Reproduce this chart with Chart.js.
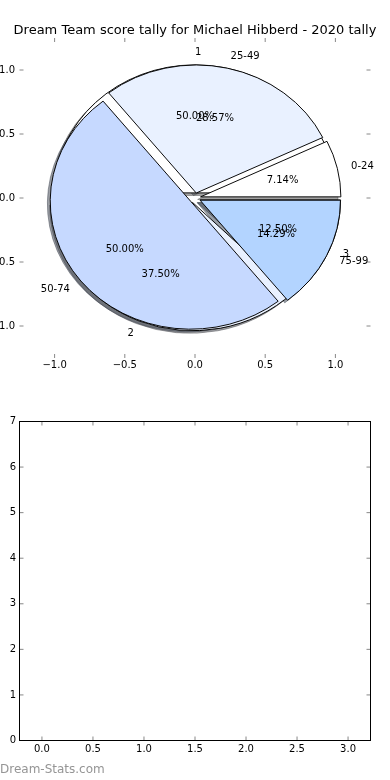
<!DOCTYPE html>
<html>
<head>
<meta charset="utf-8">
<script src="https://cdn.jsdelivr.net/npm/chart.js@4.4.1/dist/chart.umd.min.js"></script>
<style>
html,body{margin:0;padding:0;background:#fff;}
#wrap{position:relative;width:390px;height:780px;overflow:hidden;background:#fff;}
canvas{position:absolute;left:0;}
#c1{top:0;}
#c2{top:390px;}
#title{position:absolute;left:0;top:22px;width:390px;text-align:center;font-family:"DejaVu Sans";font-size:13px;line-height:16px;color:#000;white-space:nowrap;}
#wm{position:absolute;left:0;top:762px;font-family:"DejaVu Sans";font-size:12px;line-height:14px;color:#959595;white-space:nowrap;}
</style>
</head>
<body>
<div id="wrap">
<canvas id="c1" width="390" height="390"></canvas>
<canvas id="c2" width="390" height="390"></canvas>
<div id="title"></div>
<div id="wm">Dream-Stats.com</div>
</div>
<script>
// ---- data ----
const titleText = 'Dream Team score tally for Michael Hibberd - 2020 tally';
const outerLabels = ['0-24', '25-49', '50-74', '75-99'];
const outerValues = [1, 4, 7, 2];
const innerLabels = ['1', '2', '3'];
const innerValues = [4, 3, 1];
const sliceColors = ['#ffffff', '#e9f1ff', '#c6d9ff', '#b3d4ff'];
const pieTicks = [-1.0, -0.5, 0.0, 0.5, 1.0];
const lowerXTicks = [0, 0.5, 1, 1.5, 2, 2.5, 3];
const lowerYTicks = [0, 1, 2, 3, 4, 5, 6, 7];

document.getElementById('title').textContent = titleText;

Chart.defaults.font.family = '"DejaVu Sans"';
Chart.defaults.color = '#000';

function shadowOf(hex) {
  const r = parseInt(hex.slice(1, 3), 16), g = parseInt(hex.slice(3, 5), 16), b = parseInt(hex.slice(5, 7), 16);
  return 'rgba(' + Math.round(r * 0.3) + ',' + Math.round(g * 0.3) + ',' + Math.round(b * 0.3) + ',0.5)';
}
const rev = a => a.slice().reverse();
const fmtTick = v => (v < 0 ? '\u2212' : '') + Math.abs(v).toFixed(1);

function pieDataset(values, labels, explode, shift, isShadow, order) {
  const cols = values.map((_, i) => sliceColors[i % sliceColors.length]);
  const fill = isShadow ? cols.map(shadowOf) : cols;
  return {
    data: rev(values),
    sliceLabels: isShadow ? null : rev(labels),
    backgroundColor: rev(fill),
    borderColor: isShadow ? rev(fill) : '#000',
    borderWidth: 1,
    borderJoinStyle: 'miter',
    explode: explode,
    shift: shift,
    order: order,
    clip: false,
    offset: 0,
    hoverOffset: 0
  };
}

const OUTER_EXPLODE = 0.04, INNER_EXPLODE = 0.04, SHADOW = -0.02;
const TEXT_DY = 0.5;

function geom(chart) {
  const xs = chart.scales.x, ys = chart.scales.y;
  const cx = xs.getPixelForValue(0), cy = ys.getPixelForValue(0);
  return {cx, cy, rx: xs.getPixelForValue(1) - cx, ry: cy - ys.getPixelForValue(1)};
}

const pieGeometry = {
  id: 'pieGeometry',
  afterDatasetsUpdate(chart) {
    const g = geom(chart);
    chart.data.datasets.forEach((ds, i) => {
      chart.getDatasetMeta(i).data.forEach(arc => {
        const mid = (arc.startAngle + arc.endAngle) / 2;
        arc.x = g.cx + (ds.explode * Math.cos(mid) + ds.shift) * g.rx;
        arc.y = g.cy + (ds.explode * Math.sin(mid) - ds.shift) * g.rx;
        arc.innerRadius = 0;
        arc.outerRadius = g.rx;
      });
    });
  },
  beforeDatasetsDraw(chart) {
    const g = geom(chart), ctx = chart.ctx;
    ctx.save();
    ctx.translate(0, g.cy);
    ctx.scale(1, g.ry / g.rx);
    ctx.translate(0, -g.cy);
  },
  afterDatasetsDraw(chart) {
    chart.ctx.restore();
  },
  afterDraw(chart) {
    const g = geom(chart), ctx = chart.ctx, a = chart.chartArea;
    // tick marks (inward, all four sides)
    ctx.save();
    ctx.strokeStyle = '#888';
    ctx.lineWidth = 1;
    ctx.beginPath();
    pieTicks.forEach(v => {
      const x = chart.scales.x.getPixelForValue(v);
      ctx.moveTo(x, a.top); ctx.lineTo(x, a.top + 4);
      ctx.moveTo(x, a.bottom); ctx.lineTo(x, a.bottom - 4);
      const y = chart.scales.y.getPixelForValue(v);
      ctx.moveTo(a.left, y); ctx.lineTo(a.left + 4, y);
      ctx.moveTo(a.right, y); ctx.lineTo(a.right - 4, y);
    });
    ctx.stroke();
    ctx.restore();
    // slice labels and percentages
    ctx.save();
    ctx.font = '10px "DejaVu Sans"';
    ctx.fillStyle = '#000';
    ctx.textBaseline = 'middle';
    const drawOrder = chart.data.datasets.map((ds, i) => i).filter(i => chart.data.datasets[i].sliceLabels)
      .sort((p, q) => chart.data.datasets[q].order - chart.data.datasets[p].order);
    drawOrder.forEach(i => {
      const ds = chart.data.datasets[i];
      const total = ds.data.reduce((s, v) => s + v, 0);
      chart.getDatasetMeta(i).data.forEach((arc, j) => {
        const mid = (arc.startAngle + arc.endAngle) / 2;
        const c = Math.cos(mid), s = Math.sin(mid);
        ctx.textAlign = c >= -1e-9 ? 'left' : 'right';
        ctx.fillText(ds.sliceLabels[j], g.cx + (ds.explode + 1.1) * c * g.rx, g.cy + (ds.explode + 1.1) * s * g.ry + TEXT_DY);
        ctx.textAlign = 'center';
        ctx.fillText((ds.data[j] / total * 100).toFixed(2) + '%', g.cx + (ds.explode + 0.6) * c * g.rx, g.cy + (ds.explode + 0.6) * s * g.ry + TEXT_DY);
      });
    });
    ctx.restore();
  }
};

new Chart(document.getElementById('c1'), {
  type: 'pie',
  data: {
    datasets: [
      pieDataset(outerValues, outerLabels, OUTER_EXPLODE, 0, false, 0),
      pieDataset(innerValues, innerLabels, INNER_EXPLODE, 0, false, 1),
      pieDataset(outerValues, outerLabels, OUTER_EXPLODE, SHADOW, true, 2),
      pieDataset(innerValues, innerLabels, INNER_EXPLODE, SHADOW, true, 3)
    ]
  },
  options: {
    responsive: false,
    animation: false,
    events: [],
    rotation: 90,
    layout: {padding: {left: 0, right: 19.5, top: 38, bottom: 0}, autoPadding: false},
    plugins: {
      legend: {display: false},
      tooltip: {enabled: false},
      title: {display: false}
    },
    scales: {
      x: {
        type: 'linear', position: 'bottom', min: -1.25, max: 1.25,
        grid: {display: false, drawTicks: false}, border: {display: false},
        afterBuildTicks: s => { s.ticks = pieTicks.map(v => ({value: v})); },
        ticks: {autoSkip: false, maxRotation: 0, padding: 1.5, font: {size: 10}, color: '#000', callback: v => fmtTick(v)},
        afterFit: s => { s.height = 32; }
      },
      y: {
        type: 'linear', position: 'left', min: -1.25, max: 1.25,
        grid: {display: false, drawTicks: false}, border: {display: false},
        afterBuildTicks: s => { s.ticks = pieTicks.map(v => ({value: v})); },
        ticks: {autoSkip: false, padding: 4.5, font: {size: 10}, color: '#000', callback: v => fmtTick(v)},
        afterFit: s => { s.width = 19.5; }
      }
    }
  },
  plugins: [pieGeometry]
});

const frameTicks = {
  id: 'frameTicks',
  afterDraw(chart) {
    const ctx = chart.ctx, a = chart.chartArea;
    ctx.save();
    ctx.strokeStyle = '#888';
    ctx.lineWidth = 1;
    ctx.beginPath();
    lowerXTicks.forEach(v => {
      const x = chart.scales.x.getPixelForValue(v);
      ctx.moveTo(x, a.top); ctx.lineTo(x, a.top + 4);
      ctx.moveTo(x, a.bottom); ctx.lineTo(x, a.bottom - 4);
    });
    lowerYTicks.forEach(v => {
      const y = chart.scales.y.getPixelForValue(v);
      ctx.moveTo(a.left, y); ctx.lineTo(a.left + 4, y);
      ctx.moveTo(a.right, y); ctx.lineTo(a.right - 4, y);
    });
    ctx.stroke();
    ctx.strokeStyle = '#000';
    ctx.strokeRect(a.left, a.top, a.right - a.left, a.bottom - a.top);
    ctx.restore();
  }
};

new Chart(document.getElementById('c2'), {
  type: 'scatter',
  data: {datasets: [{data: []}]},
  options: {
    responsive: false,
    animation: false,
    events: [],
    layout: {padding: {left: 0, right: 19.5, top: 31.5, bottom: 0}, autoPadding: false},
    plugins: {legend: {display: false}, tooltip: {enabled: false}},
    scales: {
      x: {
        type: 'linear', position: 'bottom', min: -0.22, max: 3.22,
        grid: {display: false, drawTicks: false}, border: {display: false},
        afterBuildTicks: s => { s.ticks = lowerXTicks.map(v => ({value: v})); },
        ticks: {autoSkip: false, maxRotation: 0, padding: 3, font: {size: 10}, color: '#000', callback: v => v.toFixed(1)},
        afterFit: s => { s.height = 39.5; }
      },
      y: {
        type: 'linear', position: 'left', min: 0, max: 7,
        grid: {display: false, drawTicks: false}, border: {display: false},
        afterBuildTicks: s => { s.ticks = lowerYTicks.map(v => ({value: v})); },
        ticks: {autoSkip: false, padding: 3.5, font: {size: 10}, color: '#000', callback: v => String(v)},
        afterFit: s => { s.width = 19.5; }
      }
    }
  },
  plugins: [frameTicks]
});
</script>
</body>
</html>
